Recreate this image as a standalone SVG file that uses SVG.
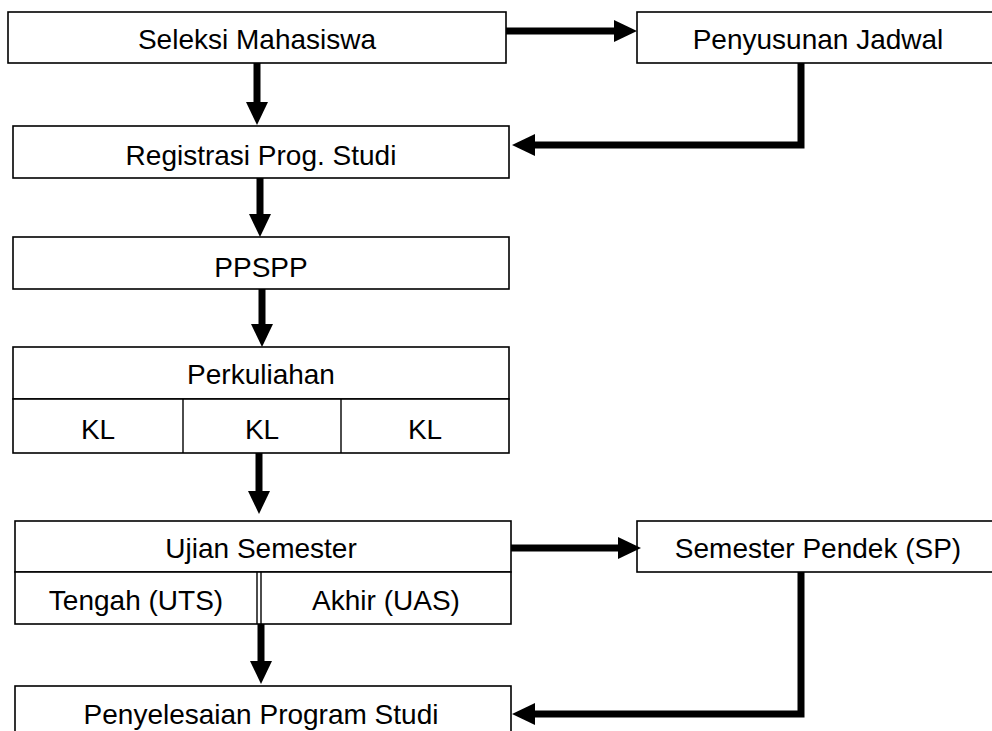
<svg xmlns="http://www.w3.org/2000/svg" width="992" height="731" viewBox="0 0 992 731">
<style>
.box{fill:#fff;stroke:#000;stroke-width:1.6}
.div{stroke:#000;stroke-width:1.4;fill:none}
.t{font-family:"Liberation Sans",Arial,sans-serif;font-size:28px;fill:#000;text-anchor:middle}
.c{fill:none;stroke:#000;stroke-width:7;marker-end:url(#ah)}
</style>
<defs>
<marker id="ah" markerUnits="userSpaceOnUse" viewBox="0 0 23 22" markerWidth="23" markerHeight="22" refX="0" refY="11" orient="auto">
<path d="M0,0 L23,11 L0,22 z" fill="#000"/>
</marker>
</defs>
<rect width="992" height="731" fill="#fff"/>
<g id="seleksi"><rect class="box" x="8" y="12" width="498" height="51"/><text class="t" x="257" y="49">Seleksi Mahasiswa</text></g>
<g id="penyusunan"><rect class="box" x="637" y="12" width="362" height="51"/><text class="t" x="818" y="49">Penyusunan Jadwal</text></g>
<g id="registrasi"><rect class="box" x="13" y="126" width="496" height="52"/><text class="t" x="261" y="165">Registrasi Prog. Studi</text></g>
<g id="ppspp"><rect class="box" x="13" y="237" width="496" height="52"/><text class="t" x="261" y="277">PPSPP</text></g>
<g id="perkuliahan"><rect class="box" x="13" y="347" width="496" height="52"/><text class="t" x="261" y="384">Perkuliahan</text>
<rect class="box" x="13" y="399" width="496" height="54"/>
<line class="div" x1="183" y1="399" x2="183" y2="453"/><line class="div" x1="341" y1="399" x2="341" y2="453"/>
<text class="t" x="98" y="439">KL</text><text class="t" x="262" y="439">KL</text><text class="t" x="425" y="439">KL</text></g>
<g id="ujian"><rect class="box" x="15" y="521" width="496" height="51"/><text class="t" x="261" y="558">Ujian Semester</text>
<rect class="box" x="15" y="572" width="496" height="52"/>
<line class="div" x1="257" y1="572" x2="257" y2="624" stroke-width="1"/><line class="div" x1="261" y1="572" x2="261" y2="624" stroke-width="1"/>
<text class="t" x="136" y="610">Tengah (UTS)</text><text class="t" x="386" y="610">Akhir (UAS)</text></g>
<g id="sp"><rect class="box" x="637" y="521" width="362" height="51"/><text class="t" x="818" y="558">Semester Pendek (SP)</text></g>
<g id="penyelesaian"><rect class="box" x="15" y="686" width="496" height="60"/><text class="t" x="261" y="724">Penyelesaian Program Studi</text></g>
<g id="connectors">
<path class="c" d="M506,31 H614"/>
<path class="c" d="M257,63 V102"/>
<path class="c" d="M801,63 V145 H535"/>
<path class="c" d="M260,178 V214"/>
<path class="c" d="M262,289 V324"/>
<path class="c" d="M259,453 V491"/>
<path class="c" d="M261,624 V661"/>
<path class="c" d="M511,548 H618"/>
<path class="c" d="M801,572 V714 H535"/>
</g>
</svg>
